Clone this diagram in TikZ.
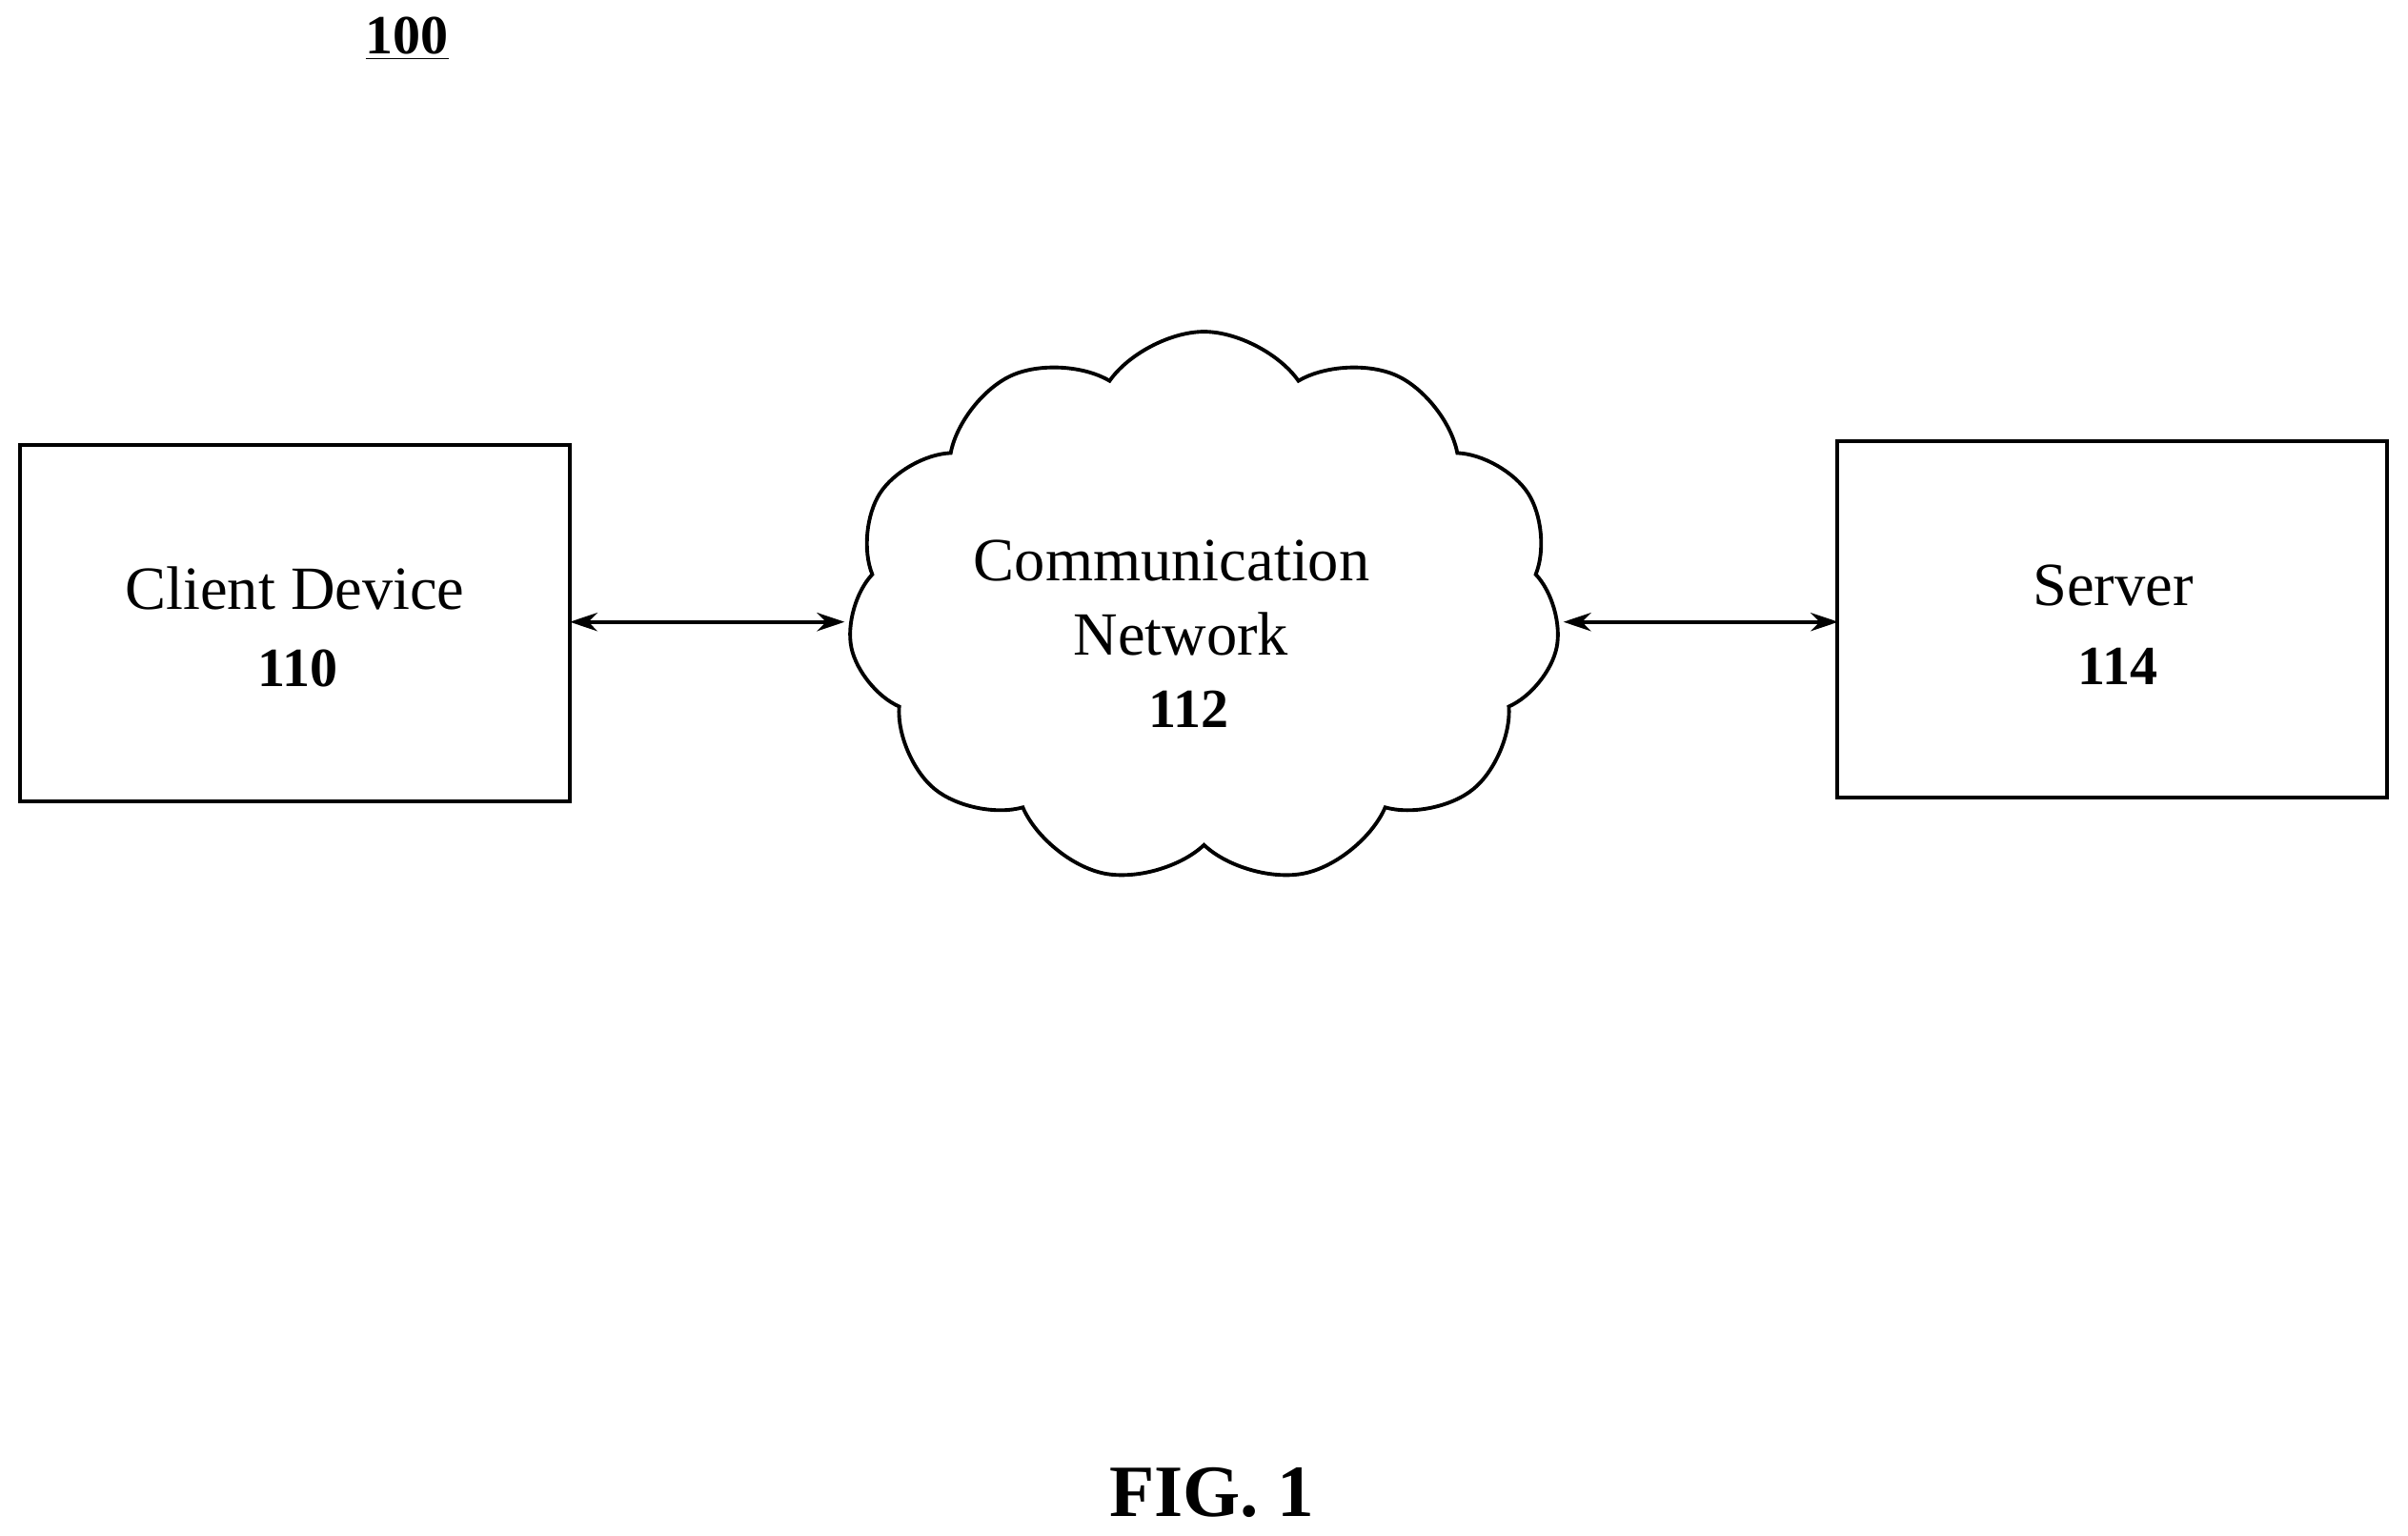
\documentclass[tikz,border=0pt]{standalone}
\usepackage{fontspec}
\setmainfont{Liberation Serif}
\usetikzlibrary{shapes.symbols,arrows.meta}
\begin{document}
\begin{tikzpicture}[x=0.5pt,y=-0.5pt,
  box/.style={draw,line width=1.2pt,minimum width=179pt,minimum height=116pt,inner sep=0pt},
  lbl/.style={font=\fontsize{20}{24}\selectfont,inner sep=0pt},
  num/.style={font=\fontsize{18}{22}\selectfont\bfseries,inner sep=0pt},
  conn/.style={line width=1.2pt,{Stealth[length=9pt,width=6pt]}-{Stealth[length=9pt,width=6pt]}}]
\useasboundingbox (0,0) rectangle (1568,1000);
\node[num] (fig) at (265,25) {\underline{100}};
\node[box] (client) at (192,406) {};
\node[lbl] (ct) at (192,383) {Client Device};
\node[num] (cn) at (194,435) {110};
\node[box] (server) at (1375.5,403.5) {};
\node[lbl] (st) at (1376,381) {Server};
\node[num] (sn) at (1379,434) {114};
\node[cloud,draw,line width=1.2pt,cloud puffs=11,cloud puff arc=110,aspect=1.3,
  minimum width=232pt,minimum height=180pt,inner sep=0pt] (net) at (784,396) {};
\node[lbl] (nt1) at (763,365) {Communication};
\node[lbl] (nt2) at (769,413) {Network};
\node[num] (nn) at (774,462) {112};
\coordinate (a1) at (371,405); \coordinate (a2) at (550,405);
\coordinate (b1) at (1018,405); \coordinate (b2) at (1197,405);
\draw[conn] (a1) -- (a2);
\draw[conn] (b1) -- (b2);
\node[font=\fontsize{24}{28}\selectfont\bfseries] (cap) at (789,972) {FIG. 1};
\end{tikzpicture}
\end{document}
